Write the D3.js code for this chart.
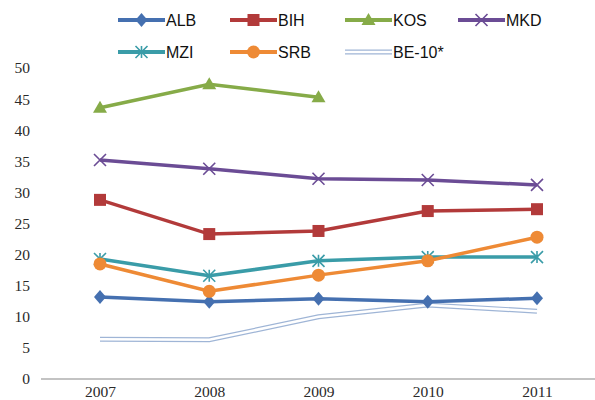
<!DOCTYPE html>
<html>
<head>
<meta charset="utf-8">
<script src="https://cdnjs.cloudflare.com/ajax/libs/d3/7.8.5/d3.min.js"></script>
<style>
  body { margin: 0; background: #fff; }
  .tick-label { font-family: 'Liberation Serif', serif; font-size: 15.5px; fill: #2a2a2a; }
  .legend-label { font-family: 'Liberation Sans', Arial, sans-serif; font-size: 16px; fill: #111; }
</style>
</head>
<body>
<svg id="chart"></svg>
<script>
const years = ['2007', '2008', '2009', '2010', '2011'];
const yTicks = [0, 5, 10, 15, 20, 25, 30, 35, 40, 45, 50];

const alb = [13.2, 12.4, 12.9, 12.4, 13.0];
const bih = [28.8, 23.3, 23.8, 27.0, 27.3];
const kos = [43.6, 47.4, 45.3, null, null];
const mkd = [35.2, 33.8, 32.2, 32.0, 31.2];
const mzi = [19.3, 16.6, 19.0, 19.6, 19.6];
const srb = [18.5, 14.1, 16.7, 19.0, 22.8];
const be10 = [6.4, 6.3, 10.0, 11.9, 10.9];

const series = [
    { name: 'ALB', values: alb, color: '#4570b0', marker: 'diamond' },
    { name: 'BIH', values: bih, color: '#b23a3a', marker: 'square' },
    { name: 'KOS', values: kos, color: '#86ab48', marker: 'triangle' },
    { name: 'MKD', values: mkd, color: '#6b4c95', marker: 'x' },
    { name: 'MZI', values: mzi, color: '#3a9ca8', marker: 'star' },
    { name: 'SRB', values: srb, color: '#ee8a35', marker: 'circle' },
    { name: 'BE-10*', values: be10, color: '#9fb5d6', marker: 'none' }
];

const width = 595, height = 400;
const svg = d3.select('#chart').attr('width', width).attr('height', height);

const x = d3.scalePoint().domain(years).range([100, 537]);
const y = d3.scaleLinear().domain([0, 50]).range([379, 68]);

// y tick labels (no axis line)
const yAxis = d3.axisLeft(y).tickValues(yTicks).tickSize(0).tickPadding(0);
const yg = svg.append('g').attr('transform', 'translate(30,0)').call(yAxis);
yg.select('.domain').remove();
yg.selectAll('text').attr('class', 'tick-label').attr('font-family', null).attr('font-size', null);

// x axis
const xg = svg.append('g').attr('transform', `translate(0,${y(0)})`)
    .call(d3.axisBottom(x).tickSize(0).tickPadding(7));
xg.select('.domain').attr('d', 'M41,0H595').attr('stroke', '#888').attr('stroke-width', 1.2);
xg.selectAll('text').attr('class', 'tick-label').attr('font-family', null).attr('font-size', null);

function drawMarker(g, type, color, cx, cy) {
    const s = 6;
    if (type === 'diamond') {
        g.append('path').attr('d', `M${cx},${cy - s - 1}L${cx + s},${cy}L${cx},${cy + s + 1}L${cx - s},${cy}Z`).attr('fill', color);
    } else if (type === 'square') {
        g.append('rect').attr('x', cx - s).attr('y', cy - s).attr('width', 2 * s).attr('height', 2 * s).attr('fill', color);
    } else if (type === 'triangle') {
        g.append('path').attr('d', `M${cx},${cy - s - 1}L${cx + s + 1},${cy + s - 1}L${cx - s - 1},${cy + s - 1}Z`).attr('fill', color);
    } else if (type === 'circle') {
        g.append('circle').attr('cx', cx).attr('cy', cy).attr('r', s + 0.5).attr('fill', color);
    } else if (type === 'x') {
        g.append('path').attr('d', `M${cx - s},${cy - s}L${cx + s},${cy + s}M${cx - s},${cy + s}L${cx + s},${cy - s}`)
            .attr('stroke', color).attr('stroke-width', 1.6);
    } else if (type === 'star') {
        g.append('path').attr('d', `M${cx - s},${cy - s}L${cx + s},${cy + s}M${cx - s},${cy + s}L${cx + s},${cy - s}M${cx},${cy - s}V${cy + s}`)
            .attr('stroke', color).attr('stroke-width', 1.6);
    }
}

const line = d3.line()
    .defined(d => d.v !== null)
    .x(d => x(d.year))
    .y(d => y(d.v));

// draw in an order so that overlaps look similar to reference
const drawOrder = ['BE-10*', 'ALB', 'MZI', 'SRB', 'BIH', 'MKD', 'KOS'];
drawOrder.forEach(name => {
    const s = series.find(d => d.name === name);
    const pts = years.map((yr, i) => ({ year: yr, v: s.values[i] }));
    const g = svg.append('g');
    if (s.marker === 'none') {
        g.append('path').datum(pts).attr('d', line).attr('fill', 'none')
            .attr('stroke', s.color).attr('stroke-width', 5);
        g.append('path').datum(pts).attr('d', line).attr('fill', 'none')
            .attr('stroke', '#fff').attr('stroke-width', 2.6);
    } else {
        g.append('path').datum(pts).attr('d', line).attr('fill', 'none')
            .attr('stroke', s.color).attr('stroke-width', 3.5);
        pts.filter(d => d.v !== null).forEach(d => drawMarker(g, s.marker, s.color, x(d.year), y(d.v)));
    }
});

// legend
const legendCols = [118, 230, 345, 458];
const legendRows = [20, 52];
series.forEach((s, i) => {
    const lx = legendCols[i % 4];
    const ly = legendRows[Math.floor(i / 4)];
    const g = svg.append('g');
    if (s.marker === 'none') {
        g.append('line').attr('x1', lx).attr('x2', lx + 47).attr('y1', ly).attr('y2', ly)
            .attr('stroke', s.color).attr('stroke-width', 5);
        g.append('line').attr('x1', lx).attr('x2', lx + 47).attr('y1', ly).attr('y2', ly)
            .attr('stroke', '#fff').attr('stroke-width', 2.6);
    } else {
        g.append('line').attr('x1', lx).attr('x2', lx + 47).attr('y1', ly).attr('y2', ly)
            .attr('stroke', s.color).attr('stroke-width', 3.8);
        drawMarker(g, s.marker, s.color, lx + 23.5, ly);
    }
    g.append('text').attr('class', 'legend-label')
        .attr('x', lx + 48).attr('y', ly).attr('dy', '0.36em')
        .text(s.name);
});
</script>
</body>
</html>
